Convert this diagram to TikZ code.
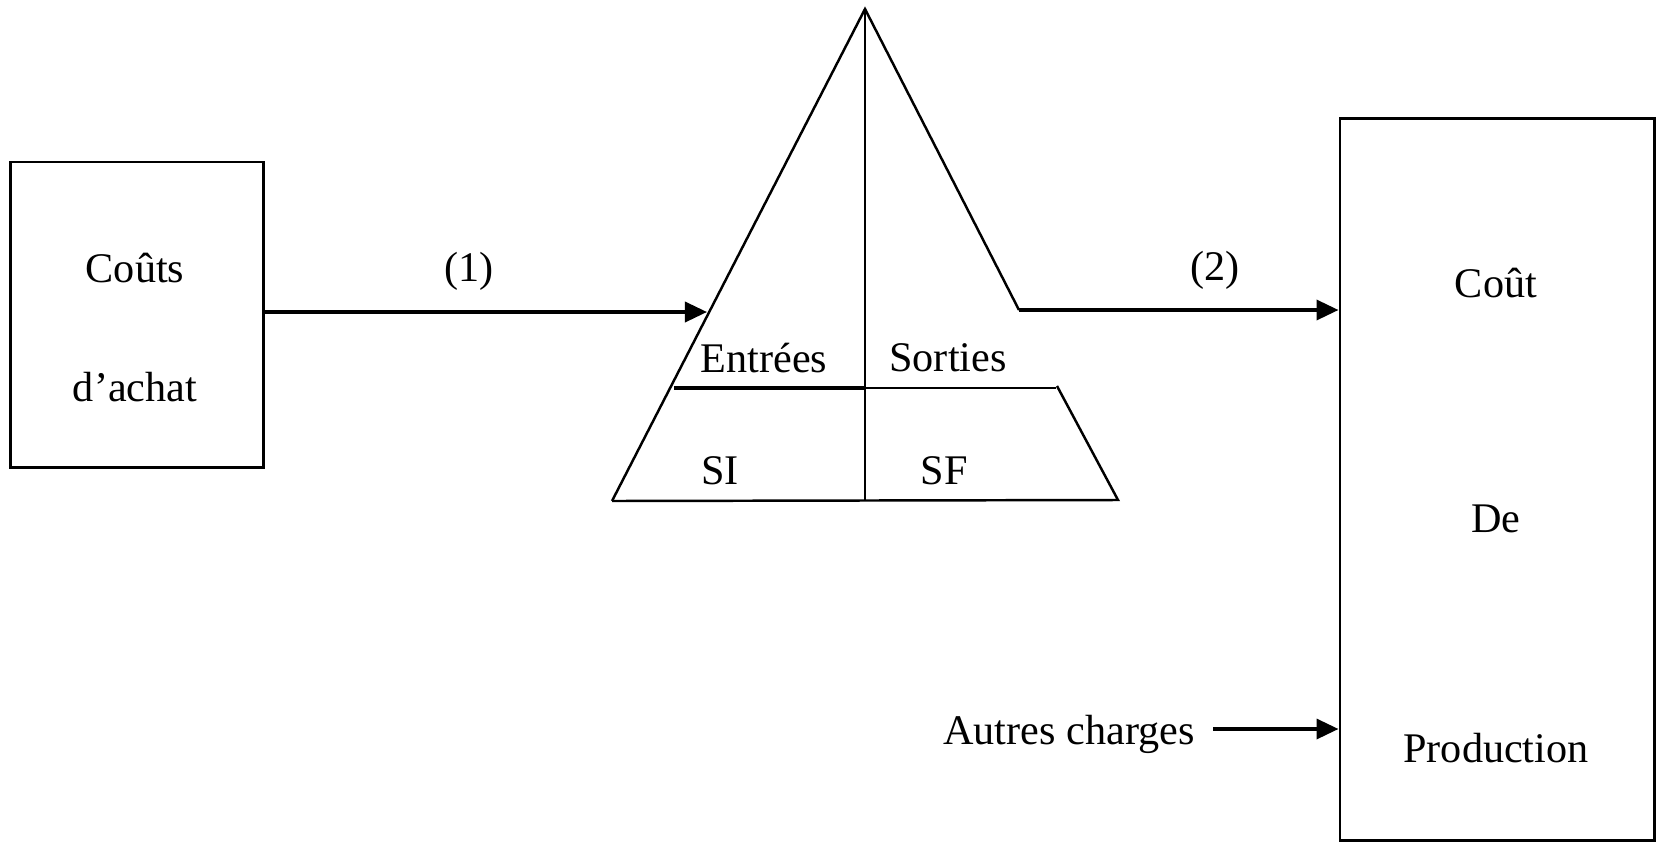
\documentclass[tikz,border=0pt]{standalone}
\usepackage{fontspec}
\setmainfont{Liberation Serif}
\usetikzlibrary{arrows.meta}
\begin{document}
\begin{tikzpicture}[x=0.01cm,y=-0.01cm,
  lbl/.style={font=\fontsize{12}{14}\selectfont, inner sep=0pt},
  boxnode/.style={draw, line width=0.8pt, inner sep=0pt},
  arr/.style={line width=1pt, -{Triangle[length=0.22cm,width=0.2cm]}},
  tri/.style={line width=0.7pt, line join=miter}]
\useasboundingbox (0,0) rectangle (1660,842);
% boxes
\node[boxnode, minimum width=2.53cm, minimum height=3.05cm] (box1) at (137,314.5) {};
\node[boxnode, minimum width=3.14cm, minimum height=7.21cm] (box2) at (1497,479.5) {};
% texts in boxes
\node[lbl] (t1) at (135,268) {Coûts};
\node[lbl] (t2) at (135,387) {d’achat};
\node[lbl] (t3) at (1496,283) {Coût};
\node[lbl] (t4) at (1496,519) {De};
\node[lbl] (t5) at (1496,748) {Production};
% triangle
\coordinate (apex) at (865,9);
\coordinate (bl) at (612,501);
\coordinate (br) at (1118,500);
\coordinate (out) at (1019,310);
\coordinate (rfrag) at (1057,386);
\coordinate (in1) at (707,312);
\coordinate (mid) at (865,388);
\coordinate (dl) at (674,388);
\coordinate (dr) at (1056,388);
\draw[tri] (bl) -- (apex) -- (out);
\draw[tri] (rfrag) -- (br) -- (bl);
\draw[line width=0.6pt] (apex) -- (865,501);
\draw[line width=1pt] (dl) -- (mid);
\draw[line width=0.5pt] (mid) -- (dr);
% triangle labels
\node[lbl] (ent) at (764,358) {Entrées};
\node[lbl] (sor) at (948,358) {Sorties};
\node[lbl] (si) at (720,471) {SI};
\node[lbl] (sf) at (944,471) {SF};
% arrows
\node[lbl] (l1) at (469,271) {(1)};
\draw[arr] (box1.east |- in1) -- (in1);
\node[lbl] (l2) at (1215,270) {(2)};
\draw[arr] (out) -- (out -| box2.west);
\node[lbl] (ac) at (1069,734) {Autres charges};
\coordinate (acs) at (1213,729);
\draw[arr] (acs) -- (acs -| box2.west);
\end{tikzpicture}
\end{document}
